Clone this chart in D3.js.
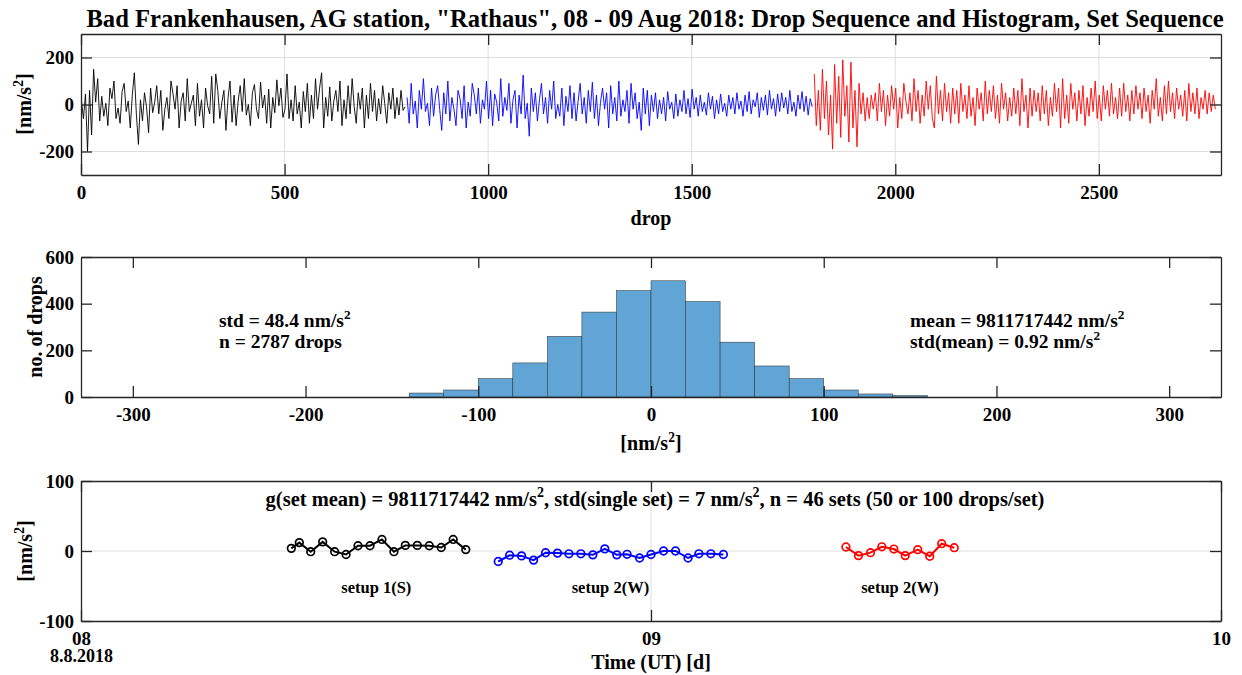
<!DOCTYPE html>
<html>
<head>
<meta charset="utf-8">
<script src="https://cdn.jsdelivr.net/npm/d3@7"></script>
<style>
  body { margin: 0; background: #fff; }
  text { font-family: "Liberation Serif", "Times New Roman", serif; font-weight: bold; fill: #000; }
  .axis path, .axis line { stroke: #262626; stroke-width: 1.3; }
  .axis text { font-size: 19px; fill: #000; }
  .grid line { stroke: #dedede; stroke-width: 1; }
</style>
</head>
<body>
<div class="canvas"></div>
<script>
// ---- data ----
// drop residuals [nm/s^2], one value every dropStep drops
const dropStep = 5;
const setupStarts = [1, 801, 1801];
const setup1Drops = [
  20, -60, 45, -200, 60, -130, 150, 10, 110, -70, 35, -50, 5, -90, 70, 25, 100, -60, -15, -80,
  55, 90, -30, 15, -100, 40, 135, -40, -170, 20, -70, 50, -10, -120, 70, -35, 10, 80, -40, 60,
  -110, -20, 30, -60, 100, 45, -20, 80, -100, 15, 50, -70, 110, -30, 5, 40, -90, 90, -50, 20,
  -100, 70, -5, -40, 120, -80, 130, 60, -60, 10, 60, -110, 25, 100, -75, 40, -90, 15, 80, -30,
  110, -45, 0, -90, 50, 85, -20, -60, 95, -15, 40, -80, 65, -100, 30, -35, 105, -5, 70, -55,
  -20, 130, -60, 20, -70, 80, -40, 10, -100, 55, -30, 90, -80, 40, -60, 110, -20, 70, 135, -100,
  30, -50, 75, -70, 15, 60, -30, 100, -90, 20, -60, 80, -40, 110, -10, -80, 50, -20, 70, -100,
  40, -60, 90, -30, 60, -70, 25, -40, 80, 5, -80, 50, -20, 70, -60, 30, -45, 60, -25, -10
];
const setup2Drops = [
  30, -80, 90, -40, 15, -100, 60, -20, 110, -30, 5, -90, 70, -50, 40, 80, -20, -110, 50, -40,
  100, -70, 30, -20, -90, 60, 25, -60, 80, -100, 10, -50, 90, 40, -40, 70, -80, 20, -20, 100,
  -60, 60, -90, 45, 10, -70, 110, -50, 30, -25, 90, -80, 20, 60, -100, 40, -40, 125, -60, 5,
  -135, 70, -30, 50, -70, 20, 90, -40, 30, -80, 60, -20, 100, -60, 0, -50, 70, -90, 35, -30,
  80, -60, 50, -70, 15, 90, -40, 30, -80, 60, -30, 95, -60, 40, -90, 10, 70, -20, 50, -100,
  80, -40, 30, -70, 100, -50, 20, -30, 60, -80, 90, -20, 50, -60, 10, -110, 70, -40, 60, -90,
  40, -30, 50, -60, 20, -40, 30, -70, 55, -20, 10, -60, 45, -50, 20, -30, 60, -40, 25, -55,
  65, -20, 30, -50, 40, -30, 10, -45, 50, -20, 35, -60, 20, -40, 45, -30, 5, -50, 40, -20,
  30, -40, 50, -20, 15, -50, 40, -30, 55, -40, 20, -10, 50, -55, 30, -25, 40, -45, 60, -20,
  25, -50, 45, -30, 50, -15, 30, -40, 60, -30, 10, -50, 40, -20, 55, -30, 35, -45, 25, -10
];
const setup3Drops = [
  130, -90, 60, -110, 150, -60, 100, -130, 40, -190, 170, -80, 120, -140, 190, -50, 80, -160, 180, -100,
  60, -180, 90, -40, 50, -70, 30, -60, 40, -20, 50, -70, 90, -30, 60, -90, 40, -50, 80, -20,
  70, -100, 30, -60, 90, 15, -40, 50, -70, 110, -30, 60, -80, 40, -50, 100, -20, 80, -60, -100,
  120, -40, 60, -70, 90, -30, 50, -80, 70, -40, 60, -80, 90, -30, 40, -60, 80, -50, 30, -90,
  70, -20, 50, -70, 100, -40, 60, -30, 80, -60, 40, -80, 90, -20, 50, -70, 30, -50, 70, -40,
  60, -90, 110, -30, 40, -100, 70, -50, 60, -30, 50, -70, 80, -40, 60, -90, 30, -50, 90, -30,
  70, -100, 110, -60, 40, -80, 90, -20, 50, -70, 60, -40, 80, -90, 30, -50, 70, -30, 100, -60,
  40, -70, 80, -20, 60, -50, 90, -40, 30, -60, 70, -50, 90, -30, 40, -70, 60, -40, 80, -20,
  50, -60, 70, -30, 40, -80, 60, -20, 110, -50, 30, -70, 80, -40, 100, -30, 50, -60, 70, -20,
  40, -50, 60, -70, 90, -30, 50, -40, 70, -60, 30, -20, 60, -40, 50, -30, 40, -20
];
const setupColors = ['#000000', '#0000ff', '#ff0000'];

// histogram of drops
const binEdges = [-140, -120, -100, -80, -60, -40, -20, 0, 20, 40, 60, 80, 100, 120, 140, 160];
const binCounts = [17, 30, 79, 146, 260, 364, 456, 498, 409, 235, 133, 79, 30, 13, 6];

// set means [nm/s^2] against time [day of Aug 2018]
const set1Days = [8.369, 8.383, 8.403, 8.424, 8.445, 8.465, 8.486, 8.507, 8.528, 8.549, 8.569, 8.590, 8.611, 8.632, 8.653, 8.675];
const set1Values = [3.8, 12, -1, 13, -1, -5, 7.5, 7.5, 16.5, -1, 8, 8, 7.5, 5, 16.5, 2];
const set2Days = [8.732, 8.752, 8.773, 8.794, 8.815, 8.836, 8.856, 8.877, 8.898, 8.919, 8.940, 8.958, 8.980, 9.000, 9.022, 9.043, 9.065, 9.084, 9.105, 9.127];
const set2Values = [-15, -6, -7, -13, -2.5, -3, -4, -4, -5.5, 3, -5.5, -4.7, -10, -5, 0, 0, -10, -4, -4, -5];
const set3Days = [9.342, 9.364, 9.385, 9.405, 9.426, 9.446, 9.468, 9.489, 9.510, 9.532];
const set3Values = [5.7, -6.6, -2.4, 6, 2.8, -6.6, 1.9, -7.5, 10.4, 4.7];
const setLabels = ['setup 1(S)', 'setup 2(W)', 'setup 2(W)'];

// ticks
const dropTicks = [0, 500, 1000, 1500, 2000, 2500];
const dropYTicks = [-200, 0, 200];
const histXTicks = [-300, -200, -100, 0, 100, 200, 300];
const histYTicks = [0, 200, 400, 600];
const dayTicks = [8, 9, 10];
const setYTicks = [-100, 0, 100];

// ---- layout ----
const svg = d3.select('.canvas').append('svg')
  .attr('width', 1242)
  .attr('height', 675);

const plotLeft = 81;
const plotRight = 1221;
const tick = 11;
const plain = d => String(d);   // hyphen minus like matlab

// append one line of text to t, "^2" becomes a superscript.
// lineX/lineY (absolute) start a new line inside the same text element
const addLine = (t, str, size, lineX, lineY) => {
  const shift = size * 0.42;
  str.split('^2').forEach((part, i) => {
    if (i > 0) {
      t.append('tspan').attr('dy', -shift).attr('font-size', size * 0.68).text('2');
      if (part) t.append('tspan').attr('dy', shift).text(part);
    } else {
      const s = t.append('tspan').text(part);
      if (lineY !== undefined) s.attr('x', lineX).attr('y', lineY);
    }
  });
};

const richText = (g, x, y, str, size, anchor, transform) => {
  const t = g.append('text')
    .attr('x', x).attr('y', y)
    .attr('font-size', size)
    .attr('text-anchor', anchor || 'start');
  if (transform) t.attr('transform', transform);
  addLine(t, str, size);
  return t;
};

// multi-line annotation kept in one text element
const textBlock = (g, x, y, lines, size, lineHeight) => {
  const t = g.append('text')
    .attr('x', x).attr('y', y)
    .attr('font-size', size);
  lines.forEach((line, i) => addLine(t, line, size, x, y + i * lineHeight));
  return t;
};

// MATLAB-like box: inward ticks on all four sides, returns bottom axis
const drawFrame = (x, y, xTicks, yTicks, xFormat) => {
  const [yBottom, yTop] = y.range();
  const bottom = svg.append('g').attr('class', 'axis')
    .attr('transform', `translate(0, ${yBottom})`)
    .call(d3.axisBottom(x).tickValues(xTicks).tickSizeInner(-tick).tickSizeOuter(0).tickPadding(11).tickFormat(xFormat));
  svg.append('g').attr('class', 'axis')
    .attr('transform', `translate(0, ${yTop})`)
    .call(d3.axisTop(x).tickValues(xTicks).tickSizeInner(-tick).tickSizeOuter(0).tickFormat(''));
  svg.append('g').attr('class', 'axis')
    .attr('transform', `translate(${plotLeft}, 0)`)
    .call(d3.axisLeft(y).tickValues(yTicks).tickSizeInner(-tick).tickSizeOuter(0).tickPadding(7).tickFormat(plain));
  svg.append('g').attr('class', 'axis')
    .attr('transform', `translate(${plotRight}, 0)`)
    .call(d3.axisRight(y).tickValues(yTicks).tickSizeInner(-tick).tickSizeOuter(0).tickFormat(''));
  return bottom;
};

const drawGrid = (x, y, xVals, yVals) => {
  const grid = svg.append('g').attr('class', 'grid');
  grid.selectAll('.gx').data(xVals).enter().append('line')
    .attr('x1', d => x(d)).attr('x2', d => x(d))
    .attr('y1', y.range()[0]).attr('y2', y.range()[1]);
  grid.selectAll('.gy').data(yVals).enter().append('line')
    .attr('x1', plotLeft).attr('x2', plotRight)
    .attr('y1', d => y(d)).attr('y2', d => y(d));
};

// title
svg.append('text')
  .attr('x', 655).attr('y', 27)
  .attr('font-size', 24.6)
  .attr('text-anchor', 'middle')
  .text('Bad Frankenhausen, AG station, "Rathaus", 08 - 09 Aug 2018: Drop Sequence and Histogram, Set Sequence');

// ---- panel 1: drop sequence ----
const xDrop = d3.scaleLinear().domain([0, 2800]).range([plotLeft, plotRight]);
const yDrop = d3.scaleLinear().domain([-300, 300]).range([175, 34]);

drawGrid(xDrop, yDrop, dropTicks.slice(1), dropYTicks);

const dropLine = d3.line()
  .x(d => xDrop(d[0]))
  .y(d => yDrop(d[1]));

[setup1Drops, setup2Drops, setup3Drops].forEach((vals, k) => {
  const pts = vals.map((v, i) => [setupStarts[k] + i * dropStep, v]);
  svg.append('path')
    .attr('d', dropLine(pts))
    .attr('fill', 'none')
    .attr('stroke', setupColors[k])
    .attr('stroke-width', 0.9);
});

drawFrame(xDrop, yDrop, dropTicks, dropYTicks, plain);
svg.append('text').attr('x', 651).attr('y', 225).attr('font-size', 20).attr('text-anchor', 'middle').text('drop');
richText(svg, 0, 0, '[nm/s^2]', 20, 'middle', 'translate(31, 104) rotate(-90)');

// ---- panel 2: histogram ----
const xHist = d3.scaleLinear().domain([-330, 330]).range([plotLeft, plotRight]);
const yHist = d3.scaleLinear().domain([0, 600]).range([397, 257]);

svg.append('g').selectAll('rect')
  .data(binCounts)
  .enter().append('rect')
  .attr('x', (d, i) => xHist(binEdges[i]))
  .attr('width', (d, i) => xHist(binEdges[i + 1]) - xHist(binEdges[i]))
  .attr('y', d => yHist(d))
  .attr('height', d => yHist(0) - yHist(d))
  .attr('fill', 'rgb(96,165,214)')
  .attr('stroke', '#2a2a2a')
  .attr('stroke-width', 0.5);

drawFrame(xHist, yHist, histXTicks, histYTicks, plain);
richText(svg, 651, 450, '[nm/s^2]', 20, 'middle');
svg.append('text').attr('font-size', 20).attr('text-anchor', 'middle')
  .attr('transform', 'translate(42, 327) rotate(-90)')
  .text('no. of drops');
textBlock(svg, 219, 327, ['std = 48.4 nm/s^2', 'n = 2787 drops'], 19.5, 21);
textBlock(svg, 910, 327, ['mean = 9811717442 nm/s^2', 'std(mean) = 0.92 nm/s^2'], 19.5, 21);

// ---- panel 3: set sequence ----
const xDay = d3.scaleLinear().domain([8, 10]).range([plotLeft, plotRight]);
const ySet = d3.scaleLinear().domain([-100, 100]).range([621, 481]);

drawGrid(xDay, ySet, [9], [0]);

const setLine = d3.line()
  .x(d => xDay(d[0]))
  .y(d => ySet(d[1]));

[[set1Days, set1Values], [set2Days, set2Values], [set3Days, set3Values]].forEach(([days, vals], k) => {
  const pts = days.map((t, i) => [t, vals[i]]);
  svg.append('path')
    .attr('d', setLine(pts))
    .attr('fill', 'none')
    .attr('stroke', setupColors[k])
    .attr('stroke-width', 2);
  svg.append('g').selectAll('circle')
    .data(pts)
    .enter().append('circle')
    .attr('cx', d => xDay(d[0]))
    .attr('cy', d => ySet(d[1]))
    .attr('r', 3.8)
    .attr('fill', 'none')
    .attr('stroke', setupColors[k])
    .attr('stroke-width', 1.7);
  svg.append('text')
    .attr('x', xDay(d3.mean(days))).attr('y', 593)
    .attr('font-size', 16.5)
    .attr('text-anchor', 'middle')
    .text(setLabels[k]);
});

const dayAxis = drawFrame(xDay, ySet, dayTicks, setYTicks, d3.format('02d'));
// date under the first day tick, as a second line of the same label
dayAxis.selectAll('.tick text')
  .filter(d => d === 8)
  .each(function() {
    const t = d3.select(this);
    t.text('');
    t.append('tspan').attr('x', 0).text('08');
    t.append('tspan').attr('x', 0).attr('dy', 17).attr('font-size', 18).text('8.8.2018');
  });
svg.append('text').attr('x', 651).attr('y', 669).attr('font-size', 20).attr('text-anchor', 'middle').text('Time (UT) [d]');
richText(svg, 0, 0, '[nm/s^2]', 20, 'middle', 'translate(32, 551) rotate(-90)');
richText(svg, 655, 506,
  'g(set mean) = 9811717442 nm/s^2, std(single set) = 7 nm/s^2, n = 46 sets (50 or 100 drops/set)', 20.5, 'middle');
</script>
</body>
</html>
